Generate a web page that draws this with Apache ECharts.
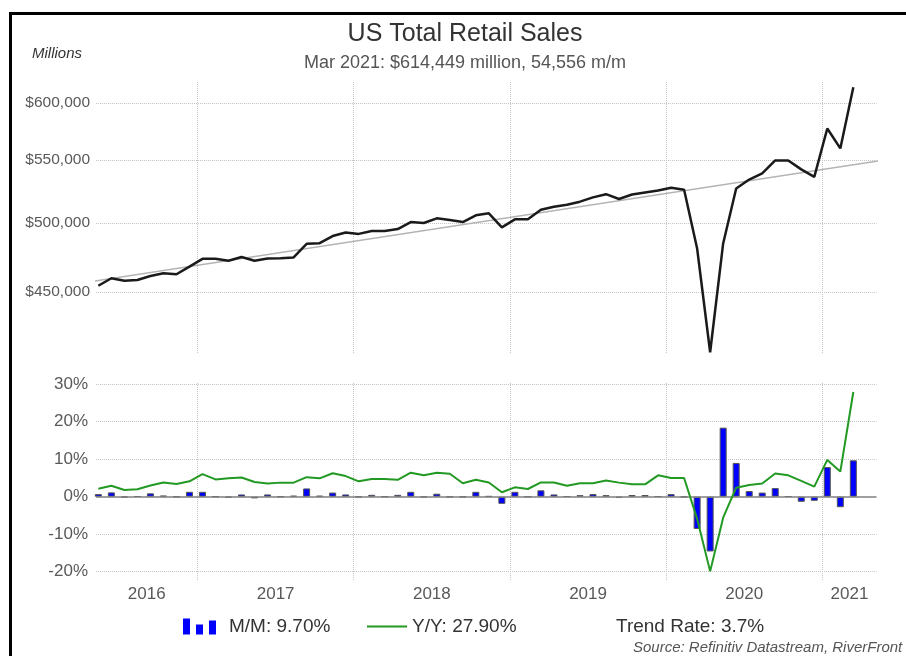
<!DOCTYPE html>
<html><head><meta charset="utf-8">
<script src="https://cdn.jsdelivr.net/npm/echarts@6/dist/echarts.min.js"></script>
<style>
html,body{margin:0;padding:0;background:#fff;}
#chart{position:absolute;left:0;top:0;width:906px;height:656px;}
#frame{position:absolute;left:9px;top:12px;width:900px;height:650px;border-left:3px solid #000;border-top:3px solid #000;pointer-events:none;}
</style></head><body>
<div id="chart"></div><div id="frame"></div>
<script>
const months = ['2016-05','2016-06','2016-07','2016-08','2016-09','2016-10','2016-11','2016-12',
'2017-01','2017-02','2017-03','2017-04','2017-05','2017-06','2017-07','2017-08','2017-09','2017-10','2017-11','2017-12',
'2018-01','2018-02','2018-03','2018-04','2018-05','2018-06','2018-07','2018-08','2018-09','2018-10','2018-11','2018-12',
'2019-01','2019-02','2019-03','2019-04','2019-05','2019-06','2019-07','2019-08','2019-09','2019-10','2019-11','2019-12',
'2020-01','2020-02','2020-03','2020-04','2020-05','2020-06','2020-07','2020-08','2020-09','2020-10','2020-11','2020-12',
'2021-01','2021-02','2021-03'];
const sales = [454300,459500,457800,458300,461100,463000,462300,467700,
473300,473300,471900,474600,471900,473600,473800,474300,484200,484700,490000,492700,
491600,493700,493700,495200,500500,499800,503400,502100,500500,505700,507200,496500,
502600,502600,510000,512300,513900,516300,519700,522200,518400,522000,523600,525200,
527300,525700,480800,410600,484500,526800,534000,539000,549700,549700,542300,536200,
577100,559893,614449];
const mom = [0.7,1.15,-0.15,0.1,0.9,0.3,-0.05,1.3,
1.3,0.0,-0.2,0.6,-0.45,0.6,0.0,0.25,2.2,0.25,1.1,0.6,
-0.1,0.5,0.0,0.5,1.3,-0.15,0.8,-0.1,-0.1,1.3,0.15,-1.9,
1.3,0.0,1.7,0.6,0.1,0.4,0.7,0.4,-0.3,0.45,0.45,0.1,
0.7,-0.1,-8.6,-14.6,18.4,9.0,1.5,1.1,2.3,0.1,-1.35,-1.1,
7.9,-2.8,9.7];
const yoy = [2.1,2.9,1.8,2.0,3.0,3.8,3.4,4.1,
6.0,4.6,4.9,5.1,3.9,3.5,3.75,3.75,5.2,4.9,6.25,5.5,
4.1,4.7,4.7,4.5,6.4,5.7,6.4,6.1,3.6,4.5,3.8,1.2,
2.5,2.05,3.8,3.8,2.9,3.6,3.6,4.3,3.75,3.3,3.3,5.7,
5.0,5.0,-5.9,-19.9,-5.6,2.4,3.1,3.5,6.2,5.7,4.2,2.7,
9.8,6.7,27.9];
const trendMonths = ['2016-04','2021-05'];
const trendValues = [456600,549400];
const yearLabels = ['2016','2017','2018','2019','2020','2021'];
const salesTicks = [450000,500000,550000,600000];
const pctTicks = [-20,-10,0,10,20,30];

function mIdx(s){ const p = s.split('-').map(Number); return (p[0]-2016)*12 + (p[1]-5); }
const X_MIN = -0.18, X_MAX = 59.78;
const yearBounds = yearLabels.slice(1).map(y => mIdx(y + '-01') - 0.38);
const edges = [X_MIN].concat(yearBounds, [X_MAX]);
const yearCenters = yearLabels.map((y, i) => (edges[i] + edges[i + 1]) / 2);
function yearFmt(v){ let b = 0, d = 1e9; yearCenters.forEach((c, i) => { if (Math.abs(c - v) < d) { d = Math.abs(c - v); b = i; } }); return yearLabels[b]; }

const FONT = 'Liberation Sans, Arial, sans-serif';
const GRID_LINE = {show: true, lineStyle: {color: '#c4c4c4', type: 'dotted', width: 1}};
const LEFT = 96, RIGHT = 906 - 876.5;

const chart = echarts.init(document.getElementById('chart'), null, {renderer: 'canvas'});
const barIcon = 'path://M0,0H7V16H0Z M13,6H20V16H13Z M26,2H33V16H26Z';
chart.setOption({
  animation: false,
  backgroundColor: '#fff',
  textStyle: {fontFamily: FONT},
  title: [
    {text: 'US Total Retail Sales', left: 465, top: 22, textAlign: 'center', padding: 0,
     textStyle: {fontSize: 25, fontWeight: 'normal', color: '#333', fontFamily: FONT}},
    {text: 'Mar 2021: $614,449 million, 54,556 m/m', left: 465, top: 54, textAlign: 'center', padding: 0,
     textStyle: {fontSize: 18, fontWeight: 'normal', color: '#555', fontFamily: FONT}},
    {text: 'Millions', left: 32, top: 46, padding: 0,
     textStyle: {fontSize: 15, fontStyle: 'italic', fontWeight: 'normal', color: '#333', fontFamily: FONT}},
    {text: 'Source: Refinitiv Datastream, RiverFront', left: 633, top: 640, padding: 0,
     textStyle: {fontSize: 15, fontStyle: 'italic', fontWeight: 'normal', color: '#555', fontFamily: FONT}}
  ],
  legend: [
    {data: [{name: 'M/M: 9.70%', icon: barIcon, itemStyle: {borderWidth: 0}}], left: 183, top: 617, padding: 0,
     itemWidth: 35, itemHeight: 16, selectedMode: false,
     textStyle: {fontSize: 19, color: '#333', fontFamily: FONT, padding: [0, 0, 0, 7]}},
    {data: [{name: 'Y/Y: 27.90%', icon: 'rect'}], left: 367, top: 617, padding: 0,
     itemWidth: 40, itemHeight: 2, selectedMode: false,
     textStyle: {fontSize: 19, color: '#333', fontFamily: FONT}},
    {data: [{name: 'Trend Rate: 3.7%', icon: 'none'}], left: 611, top: 617, padding: 0,
     itemWidth: 0, itemHeight: 2, selectedMode: false,
     textStyle: {fontSize: 19, color: '#333', fontFamily: FONT}}
  ],
  grid: [
    {left: LEFT, right: RIGHT, top: 82, height: 272},
    {left: LEFT, right: RIGHT, top: 383, height: 197}
  ],
  xAxis: [
    {type: 'value', gridIndex: 0, min: X_MIN, max: X_MAX,
     axisLine: {show: false}, axisTick: {show: false, customValues: yearBounds},
     axisLabel: {show: false}, splitLine: GRID_LINE},
    {type: 'value', gridIndex: 1, min: X_MIN, max: X_MAX,
     axisLine: {show: false}, axisTick: {show: false, customValues: yearBounds},
     axisLabel: {show: true, customValues: yearCenters, formatter: yearFmt, margin: 6,
                 fontSize: 17, color: '#595959', fontFamily: FONT},
     splitLine: GRID_LINE}
  ],
  yAxis: [
    {type: 'log', gridIndex: 0, min: 409500, max: 619400,
     axisLine: {show: false}, axisTick: {show: false, customValues: salesTicks},
     axisLabel: {customValues: salesTicks, margin: 6, fontSize: 15.5, color: '#595959', fontFamily: FONT,
                 formatter: v => '$' + Math.round(v).toLocaleString('en-US')},
     splitLine: GRID_LINE},
    {type: 'value', gridIndex: 1, min: -22.2, max: 30.3,
     axisLine: {show: false}, axisTick: {show: false, customValues: pctTicks.filter(v => v !== 0)},
     axisLabel: {customValues: pctTicks, margin: 8, fontSize: 17, color: '#595959', fontFamily: FONT,
                 formatter: v => v + '%'},
     splitLine: GRID_LINE}
  ],
  series: [
    {name: 'Trend Rate: 3.7%', type: 'line', xAxisIndex: 0, yAxisIndex: 0, symbol: 'none', silent: true,
     data: trendMonths.map((m, i) => [mIdx(m), trendValues[i]]),
     lineStyle: {color: '#b3b3b3', width: 1.5}, itemStyle: {color: '#b3b3b3'}},
    {name: 'Sales', type: 'line', xAxisIndex: 0, yAxisIndex: 0, symbol: 'none', silent: true,
     data: months.map((m, i) => [mIdx(m), sales[i]]),
     lineStyle: {color: '#1a1a1a', width: 2.5}, itemStyle: {color: '#1a1a1a'}},
    {name: 'M/M: 9.70%', type: 'bar', xAxisIndex: 1, yAxisIndex: 1, barWidth: 7, silent: true,
     data: months.map((m, i) => [mIdx(m), mom[i]]),
     itemStyle: {color: '#0000ff', borderColor: '#555', borderWidth: 1},
     markLine: {silent: true, symbol: 'none', label: {show: false},
                lineStyle: {color: '#7f7f7f', type: 'solid', width: 1.5},
                data: [{yAxis: 0}]}},
    {name: 'Y/Y: 27.90%', type: 'line', xAxisIndex: 1, yAxisIndex: 1, symbol: 'none', silent: true,
     data: months.map((m, i) => [mIdx(m), yoy[i]]), z: 5,
     lineStyle: {color: '#229922', width: 2}, itemStyle: {color: '#229922'}}
  ]
});
</script>
</body></html>
